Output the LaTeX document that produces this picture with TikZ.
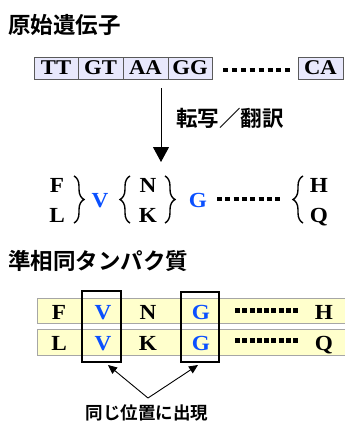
\documentclass[tikz,border=0pt]{standalone}
\usepackage{fontspec}
\setmainfont{Liberation Serif}[FakeStretch=1.08]
\newfontfamily\jp{Noto Sans CJK JP Bold}
\usetikzlibrary{arrows.meta,decorations.pathreplacing}
\definecolor{lav}{RGB}{232,232,252}
\definecolor{lyel}{RGB}{255,255,204}
\definecolor{vblue}{RGB}{10,80,255}
\definecolor{bord}{RGB}{90,90,90}
\tikzset{
  dnabox/.style={draw=bord, fill=lav, line width=0.8pt, minimum height=22pt, inner sep=0pt, font=\bfseries\fontsize{21}{21}\selectfont},
  lt/.style={anchor=base, inner sep=0pt, font=\bfseries\fontsize{21.5}{21.5}\selectfont},
  ltb/.style={lt, text=vblue},
  jptitle/.style={anchor=west, inner sep=0pt, font=\jp\fontsize{22.5}{22.5}\selectfont},
  dotsline/.style={line width=4.5pt, line cap=butt},
  brc/.style={decorate, decoration={brace, amplitude=10pt}, line width=1.4pt},
  rowbox/.style={draw=gray!70, fill=lyel, line width=0.8pt},
  selbox/.style={draw=black, line width=2pt},
  arr/.style={-{Triangle[length=9pt,width=8pt]}, line width=0.9pt}
}
\begin{document}
\begin{tikzpicture}[x=1pt,y=-1pt]
\useasboundingbox (0,0) rectangle (345,423);
% title 1
\node[jptitle] (t1) at (8,25) {原始遺伝子};
% DNA boxes
\node[dnabox, minimum width=44pt] (tt) at (56,68) {TT};
\node[dnabox, minimum width=45pt] (gt) at (100.5,68) {GT};
\node[dnabox, minimum width=45pt] (aa) at (145.5,68) {AA};
\node[dnabox, minimum width=44pt] (gg) at (190,68) {GG};
\node[dnabox, minimum width=45pt] (ca) at (320.5,68) {CA};
\draw[dotsline, dash pattern=on 5pt off 3.9pt] (223,70) -- (290,70);
% arrow
\coordinate (a1) at (161,88);
\coordinate (a2) at (161,162);
\draw[-{Triangle[length=15pt,width=16pt]}, line width=1pt] (a1) -- (a2);
\node[anchor=west, inner sep=0pt, font=\jp\fontsize{21.5}{21.5}\selectfont] (tr) at (176,118) {転写／翻訳};
% translation row
\node[lt] (f) at (57,192) {F};
\node[lt] (l) at (57,222) {L};
\draw[brc] (74,176) -- (74,223);
\node[ltb] (v) at (100,207) {V};
\draw[brc] (130,223) -- (130,176);
\node[lt] (n) at (148,192) {N};
\node[lt] (k) at (148,222) {K};
\draw[brc] (165,176) -- (165,223);
\node[ltb] (g) at (198,207) {G};
\draw[dotsline, dash pattern=on 5pt off 3.3pt] (217,199) -- (280,199);
\draw[brc] (303,223) -- (303,176);
\node[lt] (h) at (319,192) {H};
\node[lt] (q) at (319,222) {Q};
% title 2
\node[jptitle] (t2) at (8,261) {準相同タンパク質};
% rows
\draw[rowbox] (37,298) rectangle (348,323);
\draw[rowbox] (37,329) rectangle (348,355);
\node[lt] (r1a) at (59,319) {F};
\node[ltb] (r1b) at (103,319) {V};
\node[lt] (r1c) at (148,319) {N};
\node[ltb] (r1d) at (201,319) {G};
\draw[dotsline, dash pattern=on 5pt off 2.25pt] (235,310.5) -- (298,310.5);
\node[lt] (r1e) at (324,319) {H};
\node[lt] (r2a) at (59,350.5) {L};
\node[ltb] (r2b) at (103,350.5) {V};
\node[lt] (r2c) at (148,350.5) {K};
\node[ltb] (r2d) at (201,350.5) {G};
\draw[dotsline, dash pattern=on 5pt off 2.25pt] (235,340.5) -- (298,340.5);
\node[lt] (r2e) at (324,350.5) {Q};
% selection boxes
\node[selbox, minimum width=39pt, minimum height=71pt, inner sep=0pt] (vb) at (101.5,326) {};
\node[selbox, minimum width=38pt, minimum height=70pt, inner sep=0pt] (gb) at (200,326.5) {};
% bottom arrows
\coordinate (apex) at (148,398);
\draw[arr] (apex) -- (108,365);
\draw[arr] (apex) -- (198,365);
\node[inner sep=0pt, font=\jp\fontsize{17.5}{17.5}\selectfont] (lbl) at (147,413) {同じ位置に出現};
\end{tikzpicture}
\end{document}
